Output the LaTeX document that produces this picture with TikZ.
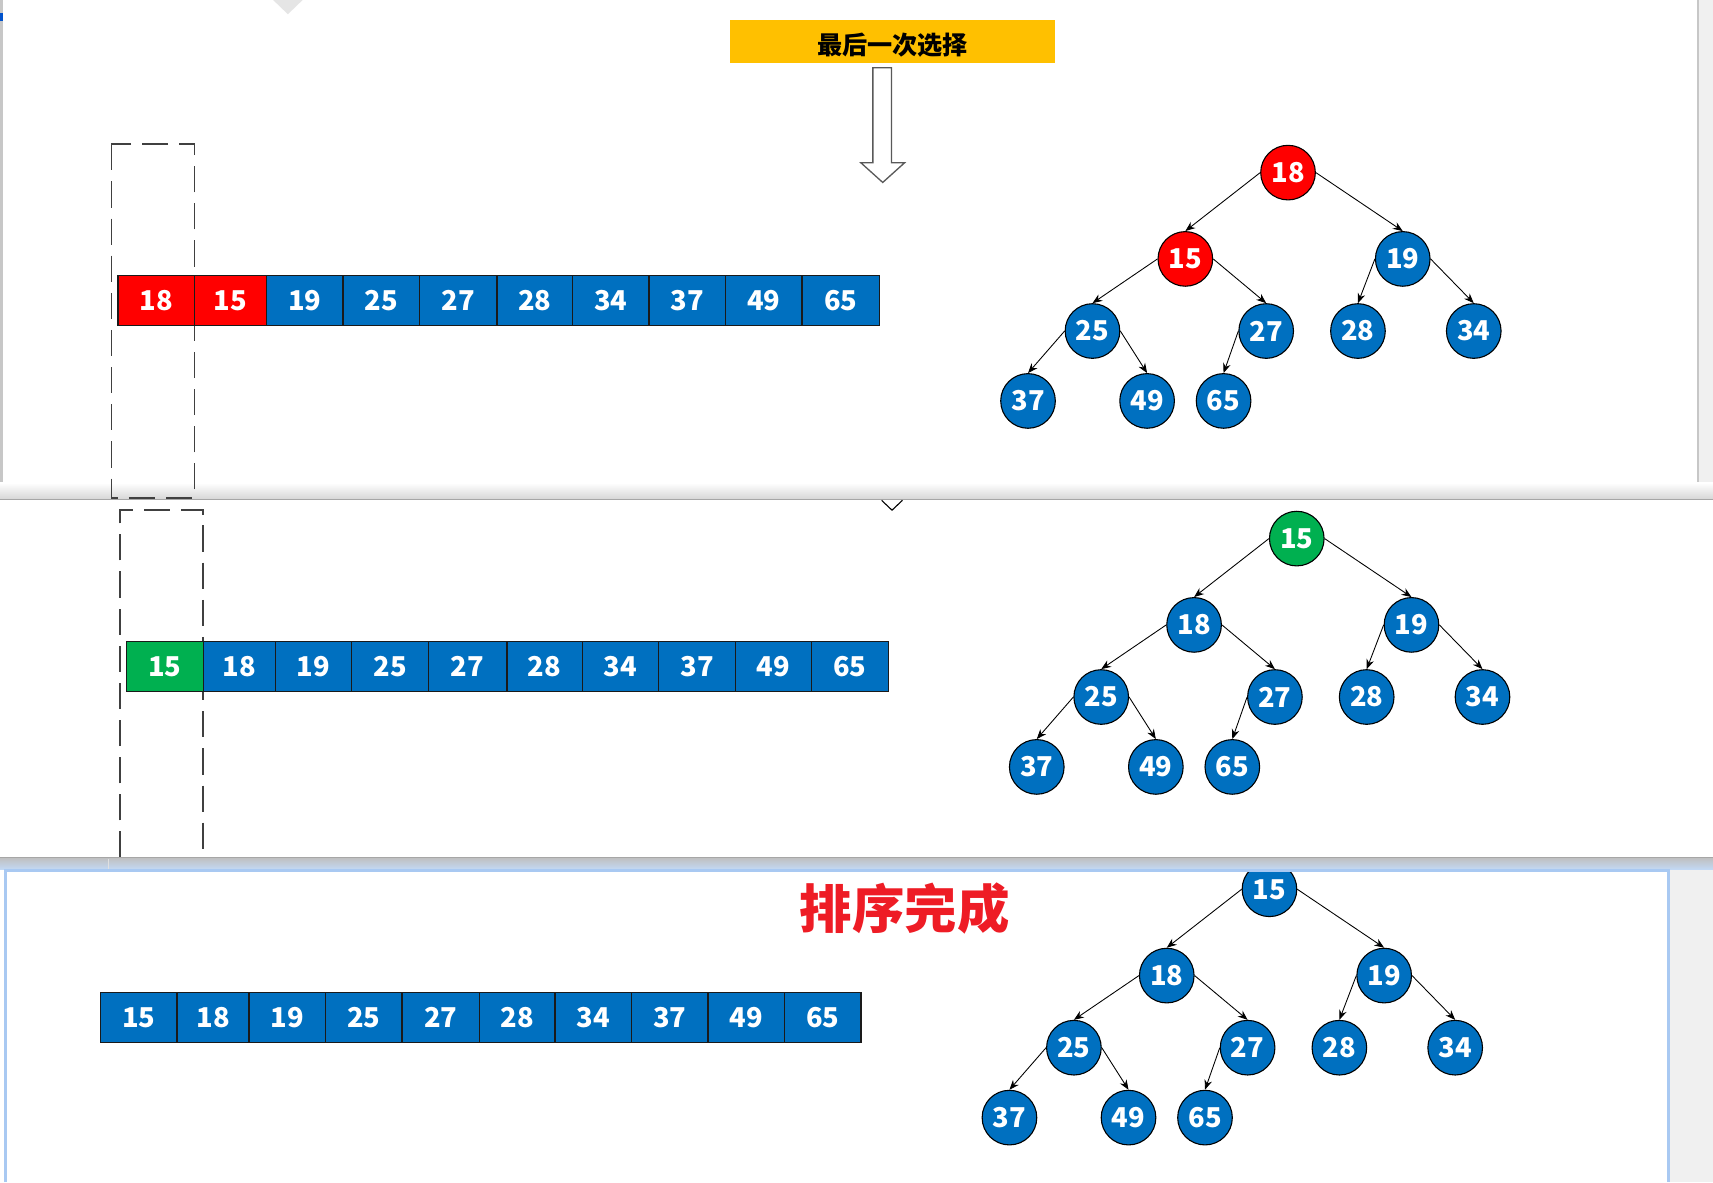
\documentclass[tikz,border=0pt]{standalone}
\usepackage{fontspec}
\newfontfamily\cjk{Noto Sans CJK SC}
\usetikzlibrary{arrows.meta}
\definecolor{cblue}{HTML}{0070C0}
\definecolor{cred}{HTML}{FF0000}
\definecolor{cgreen}{HTML}{00B050}
\definecolor{cyellow}{HTML}{FFC000}
\definecolor{cdone}{HTML}{EE1C25}
\definecolor{cborder}{HTML}{1A1A1A}
\definecolor{pframe}{HTML}{A9C9F2}
\newcommand\lowr[1]{\raisebox{-1.2pt}{#1}}
\tikzset{
  hnode/.style={circle, draw=black, line width=0.5pt, fill=cblue, minimum size=25pt, inner sep=0pt,
    text=white, font=\cjk\bfseries\fontsize{12.5pt}{14pt}\selectfont},
  cellbox/.style={rectangle, draw=cborder, line width=0.6pt, minimum height=23pt, inner sep=0pt,
    text=white, font=\cjk\bfseries\fontsize{12.5pt}{14pt}\selectfont},
  edge/.style={draw=black, line width=0.4pt, -{Stealth[length=4.5pt,width=3.5pt]}},
  dashbox/.style={draw=black!75, line width=0.7pt, dash pattern=on 12pt off 5pt},
}
\newcommand\heaptree[6]{%
  \begin{scope}[shift={#2}]
    \node[hnode,fill=#4] (#1r) at (1179,158) {\lowr{#3}};
    \node[hnode,fill=#6] (#1a) at (1085,237) {\lowr{#5}};
    \node[hnode] (#1b) at (1284,237) {\lowr{19}};
    \node[hnode] (#1c) at (1000,303) {\lowr{25}};
    \node[hnode] (#1d) at (1159,303) {\lowr{27}};
    \node[hnode] (#1e) at (1243,303) {\lowr{28}};
    \node[hnode] (#1f) at (1349,303) {\lowr{34}};
    \node[hnode] (#1g) at (941,367) {\lowr{37}};
    \node[hnode] (#1h) at (1050,367) {\lowr{49}};
    \node[hnode] (#1i) at (1120,367) {\lowr{65}};
    \draw[edge] (#1r.west) -- (#1a.north);
    \draw[edge] (#1r.east) -- (#1b.north);
    \draw[edge] (#1a.west) -- (#1c.north);
    \draw[edge] (#1a.east) -- (#1d.north);
    \draw[edge] (#1b.west) -- (#1e.north);
    \draw[edge] (#1b.east) -- (#1f.north);
    \draw[edge] (#1c.west) -- (#1g.north);
    \draw[edge] (#1c.east) -- (#1h.north);
    \draw[edge] (#1d.west) -- (#1i.north);
  \end{scope}}
\newcommand\cellrow[3]{% prefix, y center, list xa/xb/value/colour
  \foreach \xa/\xb/\v/\c [count=\i] in {#3} {
    \node[cellbox, fill=\c, minimum width={(\xb-\xa)*0.5pt}] (#1\i) at ({(\xa+\xb)/2},#2) {\lowr{\v}};
  }}
\begin{document}
\begin{tikzpicture}[x=0.5pt,y=-0.5pt]
\useasboundingbox (0,0) rectangle (1568,1082);
\fill[white] (0,0) rectangle (1568,1082);
% ---- panel 1 chrome
\fill[black!22] (0,0) rectangle (3,457);
\fill[black!6] (1553,0) rectangle (1568,457);
\fill[black!22] (1553,0) rectangle (1555,457);
\shade[top color=white, bottom color=black!16] (0,442) rectangle (1568,457);
\draw[black!35, line width=0.6pt] (0,457) -- (1568,457);
\fill[blue!60!cyan!80!black] (0,12) rectangle (3,19);
\fill[black!10] (250,0) -- (277,0) -- (263.5,13) -- cycle;
% ---- panel 1 content
\fill[cyellow] (668,18) rectangle (966,58);
\node[font=\cjk\bfseries\fontsize{11.5pt}{13pt}\selectfont, inner sep=0pt] (title) at (817,41) {最后一次选择};
\draw[black!65, line width=0.6pt, fill=white]
  (799,62) -- (816,62) -- (816,149) -- (828,149) -- (808,167) -- (788,149) -- (799,149) -- cycle;
\draw[dashbox] (102,132) rectangle (178,456);
\cellrow{a}{275}{108/178/18/cred,178/244/15/cred,244/314/19/cblue,314/384/25/cblue,384/455/27/cblue,455/524/28/cblue,524/594/34/cblue,594/664/37/cblue,664/734/49/cblue,734/805/65/cblue}
\heaptree{t}{(0,0)}{18}{cred}{15}{cred}
% ---- panel 2
\draw[black, line width=0.5pt] (807,458) -- (816.5,467) -- (826,458);
\draw[dashbox] (110,785) -- (110,467) -- (186,467) -- (186,785);
\cellrow{b}{610}{116/186/15/cgreen,186/252/18/cblue,252/322/19/cblue,322/392/25/cblue,392/464/27/cblue,464/533/28/cblue,533/603/34/cblue,603/673/37/cblue,673/743/49/cblue,743/813/65/cblue}
\heaptree{u}{(8,335)}{15}{cgreen}{18}{cblue}
% ---- band between panel 2 and 3
\shade[top color=black!25, bottom color=pframe!70] (0,785) rectangle (1568,796);
\draw[black!35, line width=0.6pt] (0,785) -- (1568,785);
\draw[black!12, line width=0.4pt] (99,786) -- (99,796);
% ---- panel 3
\fill[black!6] (1528,796) rectangle (1568,1082);
\fill[white] (4,796) rectangle (1528,1082);
\draw[pframe, line width=1.5pt] (5,1082) -- (5,797) -- (1527,797) -- (1527,1082);
\node[text=cdone, font=\cjk\bfseries\fontsize{24pt}{26pt}\selectfont] (done) at (828,832) {排序完成};
\cellrow{c}{931.5}{92/162/15/cblue,162/228/18/cblue,228/298/19/cblue,298/368/25/cblue,368/439/27/cblue,439/508/28/cblue,508/578/34/cblue,578/648/37/cblue,648/718/49/cblue,718/788/65/cblue}
\begin{scope}
  \clip (6,798.5) rectangle (1526,1082);
  \heaptree{v}{(-17,656)}{15}{cblue}{18}{cblue}
\end{scope}
\end{tikzpicture}
\end{document}
